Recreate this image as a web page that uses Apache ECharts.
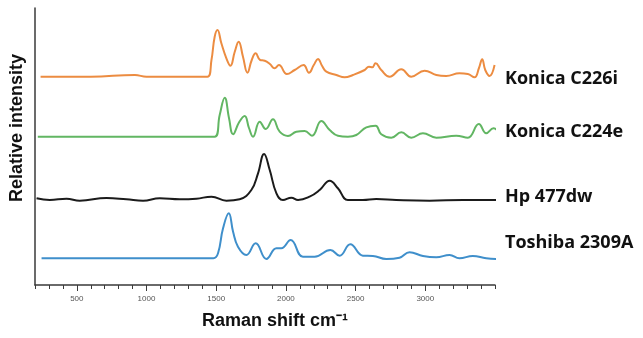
<!DOCTYPE html>
<html>
<head>
<meta charset="utf-8">
<script src="https://cdn.jsdelivr.net/npm/echarts@6/dist/echarts.min.js"></script>
<style>
  html, body { margin: 0; padding: 0; background: #fff; }
  #chart { width: 643px; height: 338px; }
</style>
</head>
<body>
<div id="chart"></div>
<script>
// Raman shift (cm-1) and stacked intensity (offset per trace)
const shiftC226i = [240, 600, 917, 1000, 1437, 1466, 1489, 1509, 1537, 1573, 1602, 1633, 1661, 1692, 1724, 1755, 1783, 1815, 1848, 1885, 1919, 1950, 2007, 2063, 2127, 2165, 2200, 2230, 2260, 2290, 2362, 2421, 2481, 2565, 2595, 2620, 2643, 2684, 2744, 2828, 2899, 2995, 3079, 3150, 3245, 3305, 3353, 3385, 3408, 3430, 3461, 3497];
const intC226i   = [208.3, 208.3, 210, 208.3, 208.3, 225, 248.3, 255, 241.7, 226.7, 219.3, 233.3, 243.3, 228.3, 212.3, 225, 231.7, 225, 224.3, 221, 216.7, 220, 211, 215, 220, 212.3, 220, 226, 219, 213.3, 210, 207.7, 210, 215, 218.3, 217.7, 221.7, 215, 208.3, 215.7, 208.3, 214.3, 210, 209, 211.7, 211, 207.7, 217, 225.7, 215, 209, 220];

const shiftC224e = [220, 800, 1489, 1525, 1561, 1592, 1621, 1665, 1704, 1735, 1764, 1812, 1855, 1907, 1955, 2015, 2075, 2134, 2187, 2254, 2314, 2373, 2445, 2505, 2577, 2643, 2684, 2756, 2828, 2899, 2983, 3079, 3222, 3305, 3384, 3437, 3489, 3532];
const intC224e   = [148.3, 148.3, 148.3, 170, 187.3, 166.7, 150.7, 163, 169, 157, 148.3, 163.3, 156, 165.7, 153.3, 149, 153.3, 154, 149.3, 164, 155, 149.3, 148.3, 150, 157.7, 159.3, 150.7, 147.3, 152.7, 147.3, 151.7, 147.3, 149.3, 147.3, 161, 151.7, 156.7, 151.7];

const shiftHp = [211, 306, 426, 521, 713, 856, 975, 1095, 1238, 1358, 1466, 1573, 1668, 1752, 1800, 1843, 1884, 1932, 1979, 2039, 2087, 2170, 2242, 2314, 2373, 2445, 2552, 2648, 2792, 3031, 3270, 3532];
const intHp   = [86.7, 85, 86.3, 84.3, 87, 85.7, 84.3, 86.7, 85.7, 86.3, 88.3, 84.3, 85.7, 95, 111.7, 131, 115, 91.7, 85, 87.3, 85, 88.3, 95, 104.3, 96.7, 85, 85, 86, 85, 84.3, 85, 85];

const shiftToshiba = [247, 900, 1480, 1513, 1549, 1590, 1621, 1656, 1716, 1783, 1860, 1932, 1967, 2034, 2122, 2206, 2319, 2385, 2462, 2552, 2624, 2720, 2815, 2887, 2983, 3079, 3174, 3245, 3341, 3437, 3532];
const intToshiba   = [26.7, 26.7, 26.7, 31.7, 56.7, 71.7, 53.3, 38.3, 30, 41.7, 26, 36.7, 36.7, 45, 28.3, 28.3, 35, 29.3, 40.7, 29.3, 29, 26, 27.3, 32.7, 29, 27.7, 30, 26.7, 29, 26.7, 26];

const traceNames = ['Konica C226i', 'Konica C224e', 'Hp 477dw', 'Toshiba 2309A'];
const traceColors = ['#ec8c41', '#62b663', '#1b1b1b', '#3f8fcb'];
const majorTicks = [500, 1000, 1500, 2000, 2500, 3000];

const pairs = (xs, ys) => xs.map((x, i) => [x, ys[i]]);
const traces = [
  pairs(shiftC226i, intC226i),
  pairs(shiftC224e, intC224e),
  pairs(shiftHp, intHp),
  pairs(shiftToshiba, intToshiba)
];
const labelY = [79, 132, 197, 243];

const chart = echarts.init(document.getElementById('chart'));

chart.setOption({
  animation: false,
  grid: { left: 35, right: 148, top: 8, bottom: 53 },
  xAxis: [
    {
      type: 'value',
      min: 200,
      max: 3500,
      interval: 100,
      axisLine: { lineStyle: { color: '#3a3a3a', width: 1.5 } },
      axisTick: { length: 4, lineStyle: { color: '#3a3a3a' } },
      axisLabel: {
        color: '#555',
        fontSize: 8,
        margin: 10,
        fontFamily: 'Liberation Sans',
        formatter: v => (majorTicks.includes(v) ? String(v) : '')
      },
      splitLine: { show: false }
    },
    {
      type: 'value',
      min: 200,
      max: 3500,
      position: 'bottom',
      axisLine: { show: false },
      axisTick: { length: 6, customValues: majorTicks, lineStyle: { color: '#3a3a3a' } },
      axisLabel: { show: false },
      splitLine: { show: false }
    }
  ],
  yAxis: {
    type: 'value',
    min: 0,
    max: 277,
    axisLine: { show: true, lineStyle: { color: '#3a3a3a', width: 1.5 } },
    axisTick: { show: false },
    axisLabel: { show: false },
    splitLine: { show: false }
  },
  series: traces.map((d, i) => ({
    name: traceNames[i],
    type: 'line',
    data: d,
    xAxisIndex: 0,
    smooth: 0.45,
    showSymbol: false,
    clip: false,
    lineStyle: { color: traceColors[i], width: 2 }
  })),
  graphic: [
    ...traceNames.map((n, i) => ({
      type: 'text',
      x: 505,
      y: labelY[i],
      style: {
        text: n,
        font: 'bold 18px "Open Sans"',
        fill: '#111',
        verticalAlign: 'middle'
      }
    })),
    {
      type: 'text',
      x: 17,
      y: 128,
      rotation: Math.PI / 2,
      style: {
        text: 'Relative intensity',
        font: 'bold 18px "Liberation Sans"',
        fill: '#111',
        align: 'center',
        verticalAlign: 'middle'
      }
    },
    {
      type: 'text',
      x: 275,
      y: 321,
      style: {
        text: 'Raman shift cm\u207B\u00B9',
        font: 'bold 18px "Liberation Sans"',
        fill: '#111',
        align: 'center',
        verticalAlign: 'middle'
      }
    }
  ]
});
</script>
</body>
</html>
